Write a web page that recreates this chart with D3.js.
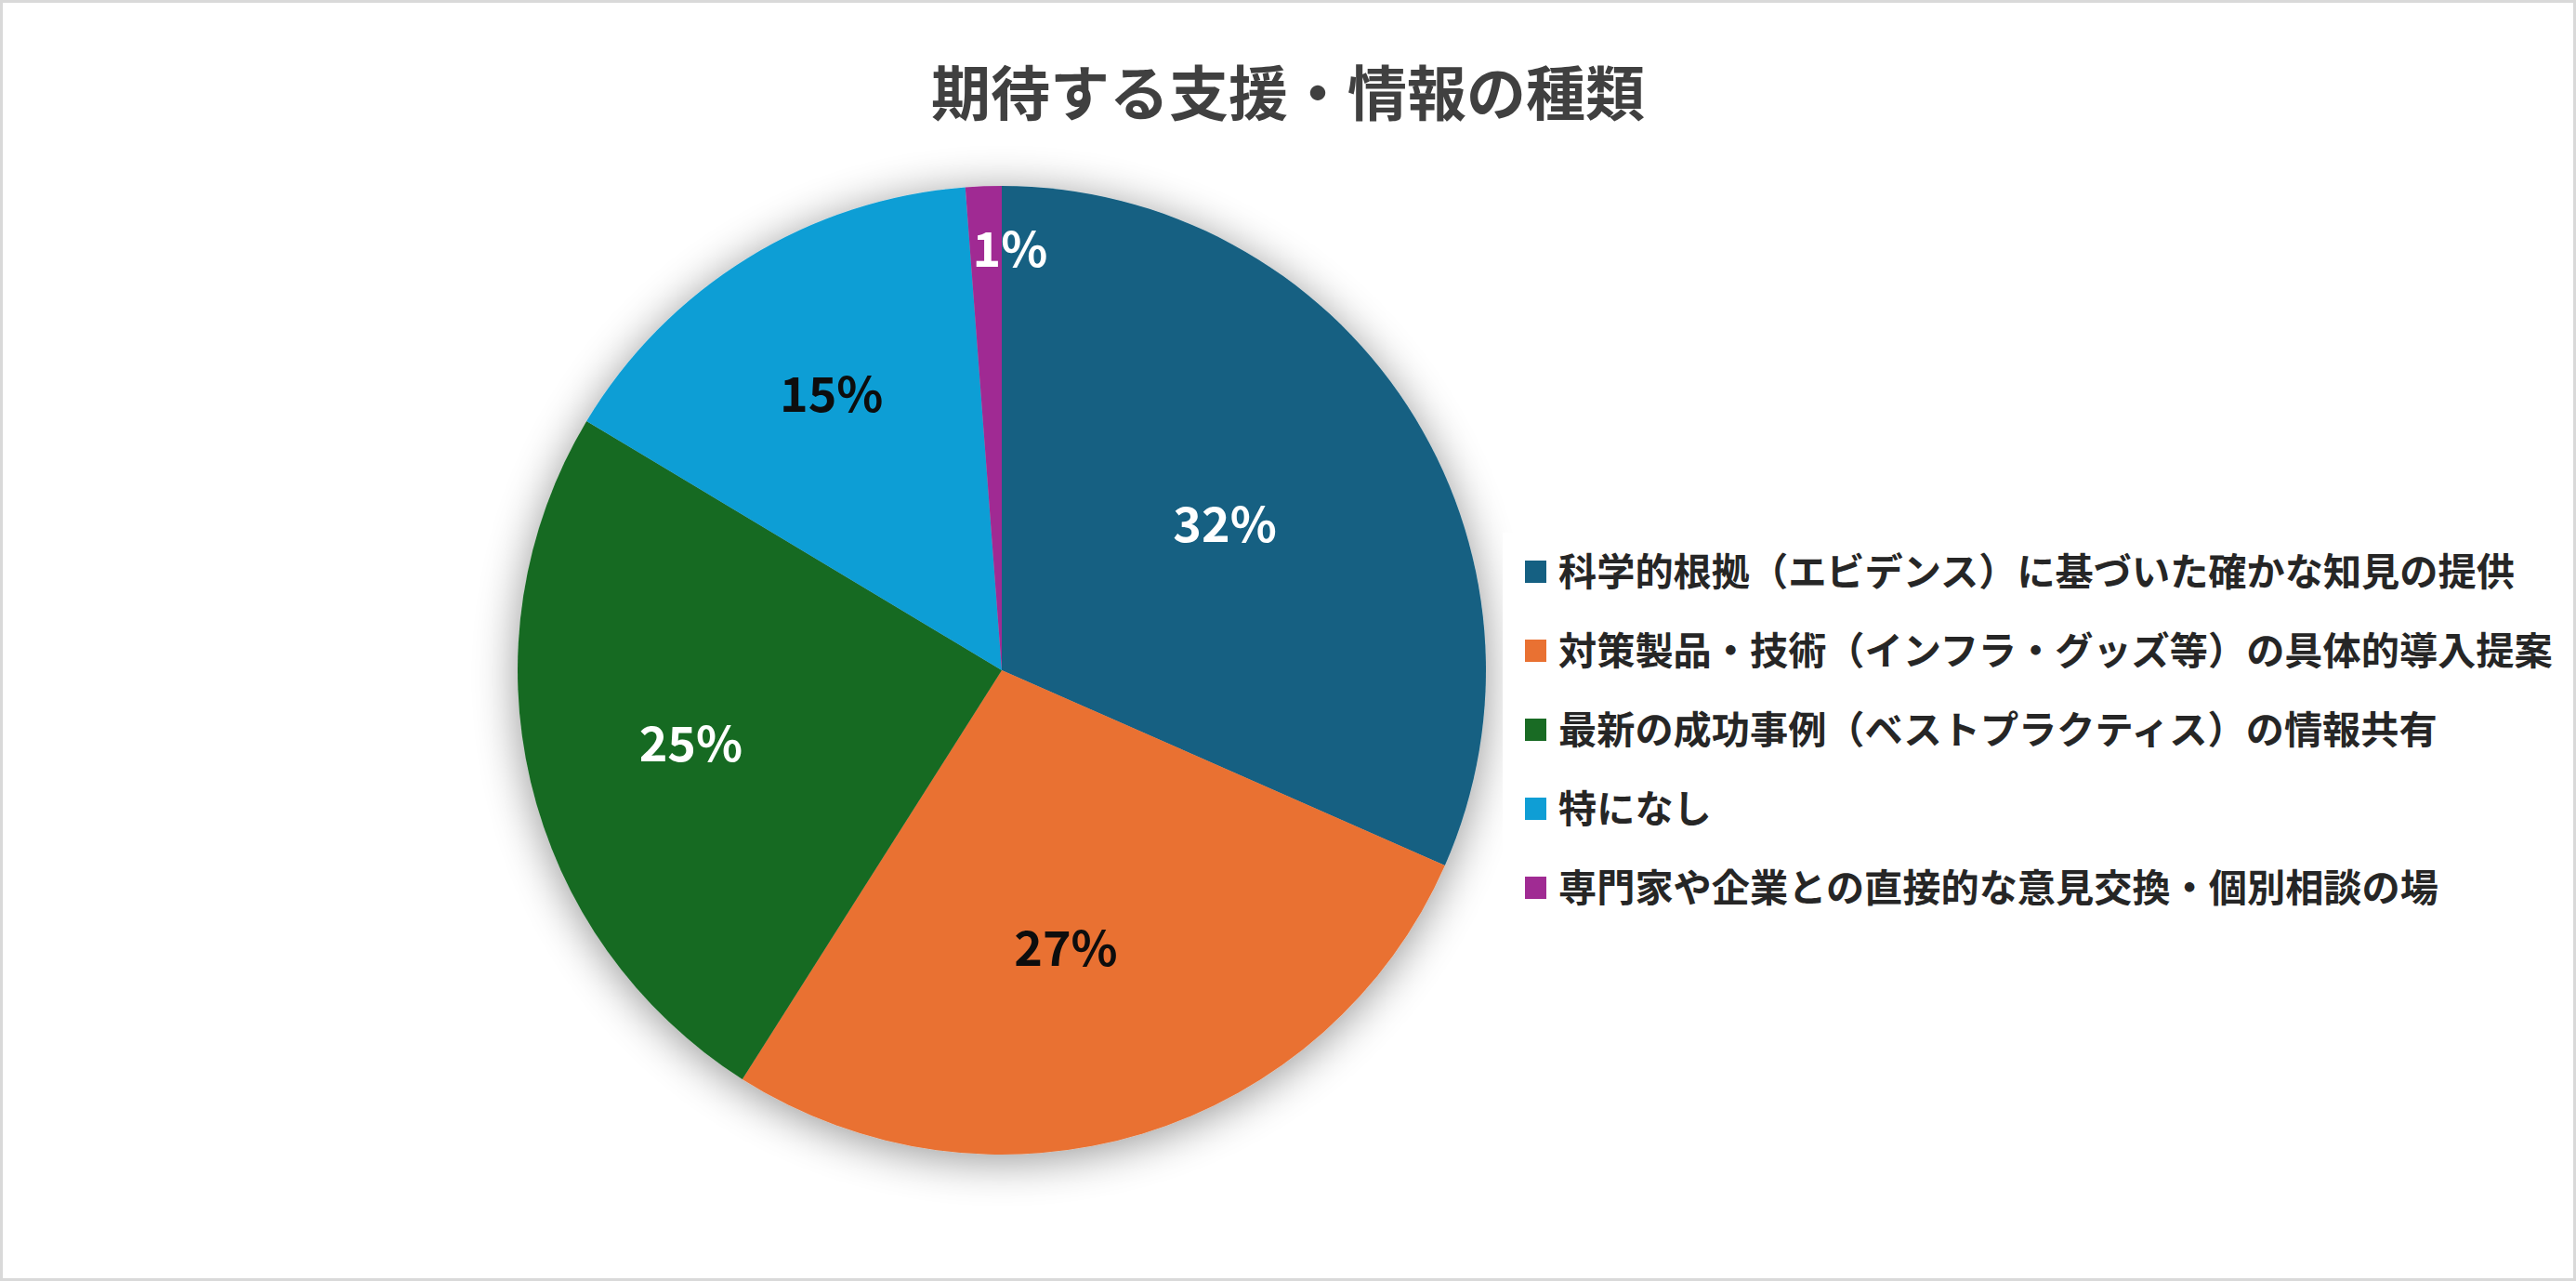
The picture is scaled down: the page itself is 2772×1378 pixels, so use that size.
<!DOCTYPE html>
<html>
<head>
<meta charset="utf-8">
<script src="https://cdn.jsdelivr.net/npm/d3@7/dist/d3.min.js"></script>
<style>
  html, body { margin: 0; padding: 0; background: #ffffff; }
  svg { display: block; }
</style>
</head>
<body>
<svg id="chart" width="2772" height="1378"></svg>
<script>
// ---- Data ----
const chartTitle = "期待する支援・情報の種類";
const categories = [
  "科学的根拠（エビデンス）に基づいた確かな知見の提供",
  "対策製品・技術（インフラ・グッズ等）の具体的導入提案",
  "最新の成功事例（ベストプラクティス）の情報共有",
  "特になし",
  "専門家や企業との直接的な意見交換・個別相談の場"
];
const values = [31.6, 27.4, 24.6, 15.2, 1.2];
const colors = ["#156082", "#E97132", "#196B24", "#0F9ED5", "#A02B93"];

// ---- Layout ----
const W = 2772, H = 1378;
const cx = 1078, cy = 721, R = 521;
const labelRadiusFactors = [0.55, 0.6, 0.66, 0.67, 0.87];
const labelNudgeX = [0, -22, 0, 0, 26];
const fontFamily = "'Noto Sans CJK JP', 'Noto Sans', sans-serif";

const svg = d3.select("#chart");

// background + border
svg.append("rect").attr("x", 1.5).attr("y", 1.5)
  .attr("width", W - 3).attr("height", H - 3)
  .attr("fill", "#ffffff").attr("stroke", "#d9d9d9").attr("stroke-width", 3);

// shadow filter
const defs = svg.append("defs");
const f = defs.append("filter").attr("id", "shadow")
  .attr("x", "-20%").attr("y", "-20%").attr("width", "140%").attr("height", "140%");
f.append("feGaussianBlur").attr("in", "SourceAlpha").attr("stdDeviation", 24).attr("result", "blur");
f.append("feOffset").attr("in", "blur").attr("dx", 0).attr("dy", 6).attr("result", "off");
f.append("feComponentTransfer").attr("in", "off").attr("result", "sh")
  .append("feFuncA").attr("type", "linear").attr("slope", 0.42);
const fm = f.append("feMerge");
fm.append("feMergeNode").attr("in", "sh");
fm.append("feMergeNode").attr("in", "SourceGraphic");

// title
svg.append("text")
  .attr("x", W / 2).attr("y", 124)
  .attr("text-anchor", "middle")
  .attr("font-family", fontFamily)
  .attr("font-weight", 700)
  .attr("font-size", 64)
  .attr("fill", "#404040")
  .text(chartTitle);

// pie
const data = categories.map((c, i) => ({ name: c, value: values[i], color: colors[i], idx: i }));
const pie = d3.pie().sort(null).value(d => d.value).startAngle(0).endAngle(2 * Math.PI);
const arcs = pie(data);
const arc = d3.arc().innerRadius(0).outerRadius(R);

const g = svg.append("g").attr("transform", `translate(${cx},${cy})`);
const slices = g.append("g").attr("filter", "url(#shadow)");
slices.selectAll("path").data(arcs).enter().append("path")
  .attr("d", arc)
  .attr("fill", d => d.data.color);

// luminance for label colour
function lum(hex) {
  const c = d3.rgb(hex);
  const ch = v => { v /= 255; return v <= 0.03928 ? v / 12.92 : Math.pow((v + 0.055) / 1.055, 2.4); };
  return 0.2126 * ch(c.r) + 0.7152 * ch(c.g) + 0.0722 * ch(c.b);
}
const total = d3.sum(values);
const pct = d3.format(".0%");

g.selectAll("text.lbl").data(arcs).enter().append("text")
  .attr("class", "lbl")
  .attr("transform", d => {
    const rr = R * labelRadiusFactors[d.index];
    const a = d3.arc().innerRadius(rr).outerRadius(rr);
    const [x, y] = a.centroid(d);
    return `translate(${x + labelNudgeX[d.index]},${y})`;
  })
  .attr("text-anchor", "middle")
  .attr("dy", "0.36em")
  .attr("font-family", fontFamily)
  .attr("font-weight", 700)
  .attr("font-size", 52)
  .attr("fill", d => lum(d.data.color) > 0.2 ? "#0d0d0d" : "#ffffff")
  .text(d => pct(d.data.value / total));

// legend
const legX = 1617, legY = 573, rowH = 85, firstRow = 615;
svg.append("rect").attr("x", legX).attr("y", legY)
  .attr("width", W - 12 - legX).attr("height", 425).attr("fill", "#ffffff");

const leg = svg.append("g");
const rows = leg.selectAll("g").data(data).enter().append("g")
  .attr("transform", (d, i) => `translate(${legX + 24},${firstRow + i * rowH})`);
rows.append("rect").attr("x", 0).attr("y", -12).attr("width", 23).attr("height", 24)
  .attr("fill", d => d.color);
rows.append("text").attr("x", 36).attr("y", 0).attr("dy", "0.36em")
  .attr("font-family", fontFamily)
  .attr("font-weight", 700)
  .attr("font-size", 41.2)
  .attr("fill", "#262626")
  .text(d => d.name);
</script>
</body>
</html>
